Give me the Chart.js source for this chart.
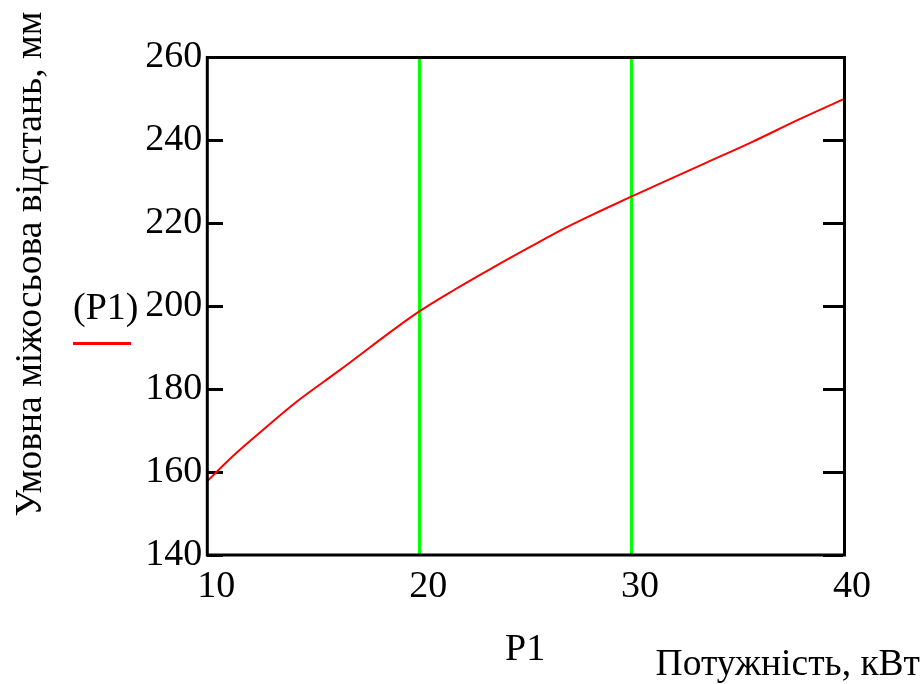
<!DOCTYPE html>
<html><head><meta charset="utf-8">
<script src="https://cdn.jsdelivr.net/npm/chart.js@4/dist/chart.umd.min.js"></script>
<style>html,body{margin:0;padding:0;background:#fff}#wrap{width:924px;height:684px;position:relative}</style>
</head><body><div id="wrap"><canvas id="c" width="924" height="684"></canvas></div>
<script>
// Data
const P1 = [10, 11.2, 12.5, 14.2, 16.2, 19.9, 21.7, 23.5, 25.3, 26.9, 28.6, 29.9, 31.2, 33.4, 35.7, 37.9, 40];
const distance = [157.8, 163.8, 169.6, 176.9, 184.4, 198.4, 204.1, 209.4, 214.5, 218.9, 223.1, 226.2, 229.2, 234.3, 239.6, 245.0, 249.9];
const markerX = [20, 30];
const xTicks = [10, 20, 30, 40];
const yTicks = [140, 160, 180, 200, 220, 240, 260];
const yTitle = 'Умовна міжосьова відстань, мм';
const xTitle = 'Потужність, кВт';
const xVarName = 'P1';
const yVarName = '(P1)';

const SERIF = '"Liberation Serif", "Times New Roman", serif';

const borderPlugin = {
  id: 'frame',
  afterDatasetsDraw(chart) {
    const {ctx, chartArea: a} = chart;
    ctx.save();
    ctx.strokeStyle = '#000';
    ctx.lineWidth = 3;
    ctx.strokeRect(a.left, a.top, a.right - a.left + 1.5, a.bottom - a.top);
    ctx.restore();
  },
  afterDraw(chart) {
    const {ctx} = chart;
    ctx.save();
    ctx.fillStyle = '#000';
    ctx.font = '37.5px ' + SERIF;
    ctx.translate(31, 264);
    ctx.rotate(-Math.PI / 2);
    ctx.textAlign = 'center';
    ctx.textBaseline = 'middle';
    ctx.fillText(yTitle, 0, 0);
    ctx.restore();

    ctx.save();
    ctx.fillStyle = '#000';
    ctx.font = '37.5px ' + SERIF;
    ctx.textAlign = 'right';
    ctx.textBaseline = 'alphabetic';
    ctx.fillText(xTitle, 920, 675);
    ctx.font = '38px ' + SERIF;
    ctx.textAlign = 'left';
    ctx.fillText(yVarName, 73, 319);
    ctx.strokeStyle = '#ff0000';
    ctx.lineWidth = 3;
    ctx.beginPath();
    ctx.moveTo(73, 343.5);
    ctx.lineTo(131, 343.5);
    ctx.stroke();
    ctx.restore();
  }
};

new Chart(document.getElementById('c'), {
  type: 'line',
  data: {
    datasets: [{
      data: P1.map((x, i) => ({x, y: distance[i]})),
      borderColor: '#ff0000',
      borderWidth: 2,
      pointRadius: 0,
      cubicInterpolationMode: 'monotone',
      fill: false
    }]
  },
  options: {
    responsive: false,
    animation: false,
    devicePixelRatio: 1,
    layout: {padding: {left: 0, top: 57.5, right: 81, bottom: 0}},
    plugins: {legend: {display: false}, tooltip: {enabled: false}},
    scales: {
      x: {
        type: 'linear', min: 10, max: 40,
        afterBuildTicks: s => { s.ticks = xTicks.map(v => ({value: v})); },
        afterFit: s => { s.height = 129; s.paddingLeft = 0; s.paddingRight = 0; },
        ticks: {font: {family: SERIF, size: 38}, color: '#000', padding: 9, labelOffset: 9, maxRotation: 0},
        grid: {
          color: c => markerX.includes(c.tick && c.tick.value) ? '#00ff00' : 'rgba(0,0,0,0)',
          lineWidth: 3, drawTicks: false
        },
        border: {display: false},
        title: {display: true, text: xVarName, font: {family: SERIF, size: 38}, color: '#000', padding: {top: 0, bottom: 11}}
      },
      y: {
        type: 'linear', min: 140, max: 260,
        afterBuildTicks: s => { s.ticks = yTicks.map(v => ({value: v})); },
        afterFit: s => { s.width = 207.3; s.paddingTop = 0; s.paddingBottom = 0; },
        ticks: {font: {family: SERIF, size: 38}, color: '#000', padding: 5},
        grid: {color: '#000', lineWidth: 3, drawTicks: false},
        border: {display: false, dash: [16, 600, 20]}
      }
    }
  },
  plugins: [borderPlugin]
});
</script>
</body></html>
